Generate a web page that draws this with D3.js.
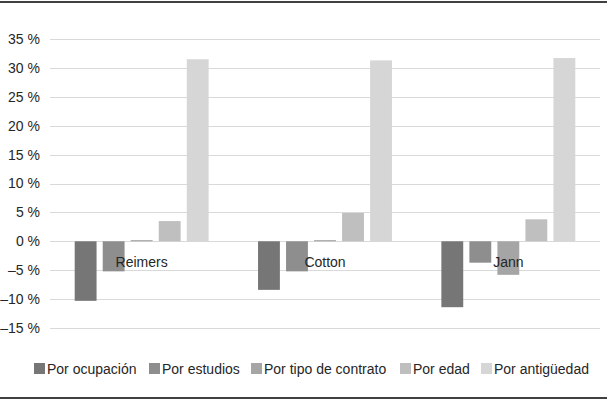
<!DOCTYPE html>
<html><head><meta charset="utf-8">
<script src="https://cdn.jsdelivr.net/npm/d3@7"></script>
<style>
html,body{margin:0;padding:0;background:#fff;}
svg text{font-family:"Liberation Sans",Arial,sans-serif;fill:#262626;}
</style></head>
<body>
<svg id="c" width="607" height="399"></svg>
<script>
const categories = ["Reimers", "Cotton", "Jann"];
const seriesNames = ["Por ocupación", "Por estudios", "Por tipo de contrato", "Por edad", "Por antigüedad"];
const seriesColors = ["#767676", "#8e8e8e", "#a5a5a5", "#bfbfbf", "#d6d6d6"];
const porOcupacion = [-10.3, -8.4, -11.4];
const porEstudios = [-5.2, -5.2, -3.7];
const porTipoContrato = [0.2, 0.2, -5.8];
const porEdad = [3.5, 4.9, 3.8];
const porAntiguedad = [31.5, 31.3, 31.7];
const yTicks = [-15, -10, -5, 0, 5, 10, 15, 20, 25, 30, 35];

const series = [porOcupacion, porEstudios, porTipoContrato, porEdad, porAntiguedad];
const svg = d3.select("#c");

// frame lines
svg.append("line").attr("x1",0).attr("x2",607).attr("y1",2).attr("y2",2).attr("stroke","#000").attr("stroke-width",1.5);
svg.append("line").attr("x1",0).attr("x2",607).attr("y1",398).attr("y2",398).attr("stroke","#000").attr("stroke-width",1.5);

const left = 50, right = 600;
const y = d3.scaleLinear().domain([-15, 35]).range([328, 39]);
const x0 = d3.scaleBand().domain(categories).range([left, right]).paddingInner(0).paddingOuter(0);
const x1 = d3.scaleBand().domain(d3.range(series.length)).range([24.7, x0.bandwidth() - 24.7]).paddingInner(0.22).paddingOuter(0);

// gridlines
svg.append("g").selectAll("line").data(yTicks).join("line")
  .attr("x1", left).attr("x2", right)
  .attr("y1", d => Math.round(y(d)) + 0.5).attr("y2", d => Math.round(y(d)) + 0.5)
  .attr("stroke", "#d9d9d9").attr("stroke-width", 1);

// y axis labels
const fmt = d => (d < 0 ? "\u2013" + Math.abs(d) : d) + " %";
const yAxis = d3.axisLeft(y).tickValues(yTicks).tickSize(0).tickPadding(0).tickFormat(fmt);
const ga = svg.append("g").attr("transform", "translate(40,0)").call(yAxis);
ga.select(".domain").remove();
ga.selectAll("text").attr("font-size", 14).attr("fill", "#262626").attr("font-family", "Liberation Sans, Arial, sans-serif");

// bars
const groups = svg.append("g").selectAll("g").data(categories).join("g")
  .attr("transform", c => `translate(${x0(c)},0)`);
groups.selectAll("rect").data((c, ci) => series.map((s, si) => ({si, v: s[ci]}))).join("rect")
  .attr("x", d => x1(d.si))
  .attr("width", x1.bandwidth())
  .attr("y", d => y(Math.max(0, d.v)))
  .attr("height", d => Math.abs(y(d.v) - y(0)))
  .attr("fill", d => seriesColors[d.si]);

// category labels
svg.append("g").selectAll("text").data(categories).join("text")
  .attr("x", c => x0(c) + x0.bandwidth() / 2)
  .attr("y", 267)
  .attr("text-anchor", "middle")
  .attr("font-size", 14)
  .text(c => c);

// legend
const legendX = [34, 149, 251, 400, 481];
const lg = svg.append("g").selectAll("g").data(seriesNames).join("g")
  .attr("transform", (d, i) => `translate(${legendX[i]},363)`);
lg.append("rect").attr("width", 11).attr("height", 11).attr("fill", (d, i) => seriesColors[i]);
lg.append("text").attr("x", 13).attr("y", 11).attr("font-size", 14).text(d => d);
</script>
</body></html>
